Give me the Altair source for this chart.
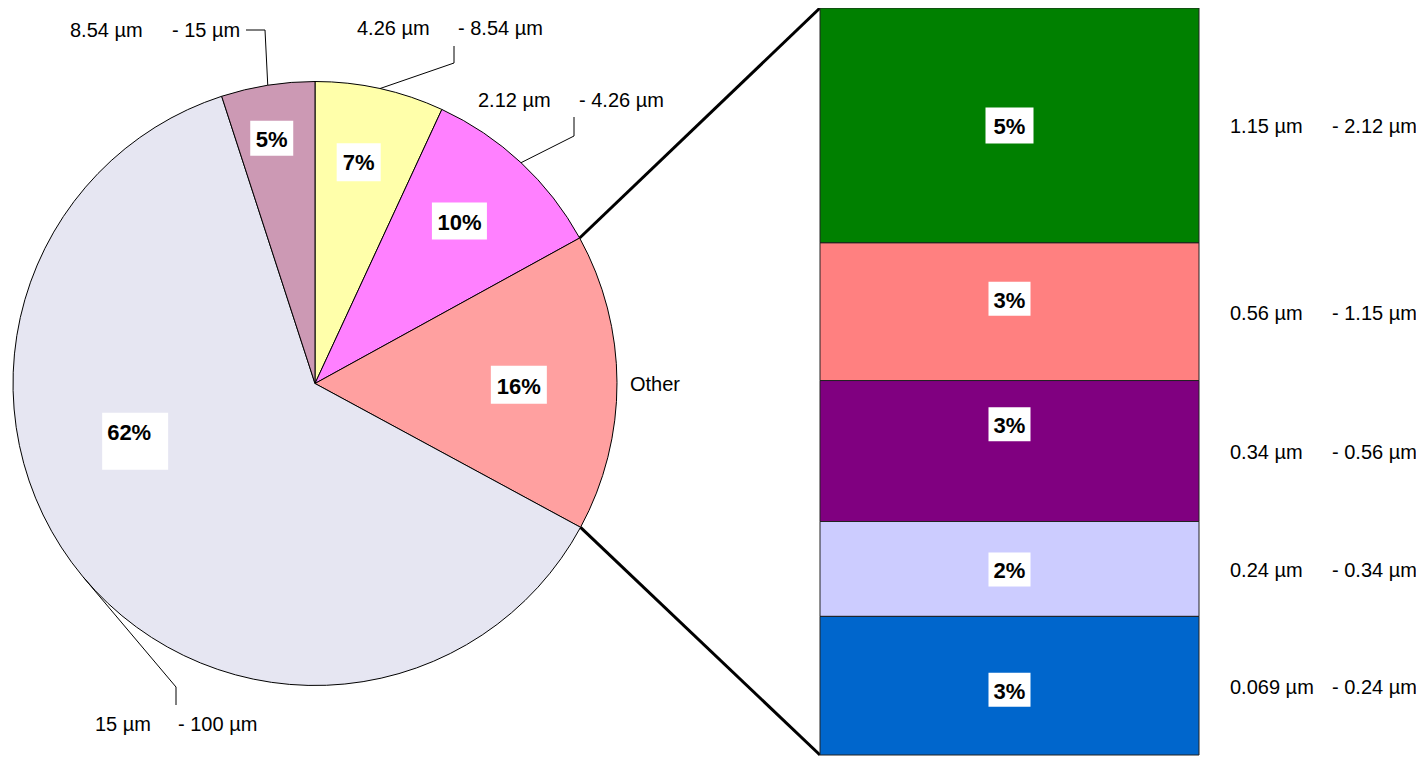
import math
import altair as alt
import pandas as pd

# ---------------- data ----------------
pie_from = ["4.26 µm", "2.12 µm", "Other", "15 µm", "8.54 µm"]
pie_to = ["- 8.54 µm", "- 4.26 µm", "", "- 100 µm", "- 15 µm"]
bar_from = ["1.15 µm", "0.56 µm", "0.34 µm", "0.24 µm", "0.069 µm"]
bar_to = ["- 2.12 µm", "- 1.15 µm", "- 0.56 µm", "- 0.34 µm", "- 0.24 µm"]
bar_values = [5.0, 2.93, 3.0, 2.02, 2.95]          # % in the "Other" group
pie_values = [6.9, 10.1, sum(bar_values), 62.1, 5.0]  # % (Other = sum of bar)

# ---------------- styles ----------------
pie_colors = ["#FFFFAA", "#FF80FF", "#FFA0A0", "#E6E6F2", "#CC99B4"]
bar_colors = ["#008000", "#FF8080", "#800080", "#CCCCFF", "#0066CC"]
FONT = "Liberation Sans, Arial, sans-serif"

# ---------------- layout (page pixels) ----------------
OFF = 8
W, H = 1408, 749
CX, CY, R = 315, 383.5, 302
BAR_X0, BAR_X1, BAR_TOP, BAR_BOT = 820, 1199, 8, 755
BAR_TXT_X1, BAR_TXT_X2 = 1230, 1332
TXT_DY = 2

# outer pie labels: x of first part, x of second part, y
pie_lab_x1 = [357, 478, 630, 95, 70]
pie_lab_x2 = [458, 579, None, 178, 172]
pie_lab_y = [27, 99, 383, 723, 29]
# leader elbows (before the edge point on the slice mid-angle)
pie_leaders = [[(454, 46), (454, 63)], [(574, 117), (574, 136)], None,
               [(176, 705), (176, 687)], [(246, 30), (265, 30)]]
# percentage label placement
pct_shift = [-1.3, -1.4, 0.5, 25.5, -1.0]
pct_rfrac = [0.75, 0.72, 0.675, 0.635, 0.825]
pct_box = [(44, 38), (55, 37), (56, 38), (66, 57), (43, 35)]
pct_box_off = [(0, 1), (0, 0), (0, 0), (6, 10.5), (0, 0)]
bar_lab_frac = [0.5, 0.406, 0.31, 0.505, 0.53]
bar_box = [(48, 36), (42, 34), (42, 34), (42, 34), (42, 34)]

# ---------------- derived tables ----------------
total = sum(pie_values)
cum = [0.0]
for v in pie_values:
    cum.append(cum[-1] + v)


def edge(deg, rr=R):
    a = math.radians(deg)
    return CX + rr * math.sin(a), CY - rr * math.cos(a)


pie_df = pd.DataFrame({"idx": range(5), "value": pie_values, "color": pie_colors})

pct_rows, box_rows, lab_rows, lead_rows = [], [], [], []
for i, v in enumerate(pie_values):
    mid = (cum[i] + v / 2) / total * 360
    tx, ty = edge(mid + pct_shift[i], R * pct_rfrac[i])
    pct_rows.append({"x": tx, "y": ty, "t": f"{v:.0f}%"})
    bw, bh = pct_box[i]
    ox, oy = pct_box_off[i]
    box_rows.append({"x0": tx + ox - bw / 2, "x1": tx + ox + bw / 2,
                     "y0": ty + oy - bh / 2, "y1": ty + oy + bh / 2})
    lab_rows.append({"x": pie_lab_x1[i], "y": pie_lab_y[i], "t": pie_from[i]})
    if pie_lab_x2[i] is not None:
        lab_rows.append({"x": pie_lab_x2[i], "y": pie_lab_y[i], "t": pie_to[i]})
    if pie_leaders[i]:
        pts = list(pie_leaders[i]) + [edge(mid)]
        for k, (px, py) in enumerate(pts):
            lead_rows.append({"seg": i, "k": k, "x": px, "y": py})

pct_df = pd.DataFrame(pct_rows)
box_df = pd.DataFrame(box_rows)
lab_df = pd.DataFrame(lab_rows)
lead_df = pd.DataFrame(lead_rows)

# connectors from the "Other" slice to the bar corners
a0 = cum[2] / total * 360
a1 = cum[3] / total * 360
p0 = edge(a0)
p1 = edge(a1)
conn_df = pd.DataFrame({"x": [p0[0], p1[0]], "y": [p0[1], p1[1]],
                        "x2": [BAR_X0, BAR_X0], "y2": [BAR_TOP, BAR_BOT]})

# bar table
btot = sum(bar_values)
upp = btot / (BAR_BOT - BAR_TOP)
brows = []
c = 0.0
for i, v in enumerate(bar_values):
    lp = c + v * bar_lab_frac[i]
    bw, bh = bar_box[i]
    bc = (BAR_X0 + BAR_X1) / 2
    brows.append({"s": c, "e": c + v, "mid": c + v / 2, "lp": lp,
                  "by0": lp - bh / 2 * upp, "by1": lp + bh / 2 * upp,
                  "bx0": bc - bw / 2, "bx1": bc + bw / 2,
                  "color": bar_colors[i], "t": f"{v:.0f}%",
                  "f": bar_from[i], "to": bar_to[i]})
    c += v
bar_df = pd.DataFrame(brows)

# ---------------- scales ----------------
xs = alt.Scale(domain=[OFF, OFF + W], range=[0, W])
ys = alt.Scale(domain=[OFF, OFF + H], range=[0, H])
bys = alt.Scale(domain=[0, btot], range=[BAR_TOP - OFF, BAR_BOT - OFF])

X = lambda f: alt.X(f, type="quantitative", scale=xs, axis=None)
Y = lambda f: alt.Y(f, type="quantitative", scale=ys, axis=None)

arcs = alt.Chart(pie_df).mark_arc(radius=R, stroke="black", strokeWidth=1).encode(
    theta=alt.Theta("value:Q", stack=True),
    order=alt.Order("idx:Q"),
    fill=alt.Fill("color:N", scale=None),
    x=alt.value(CX - OFF), y=alt.value(CY - OFF),
)

boxes = alt.Chart(box_df).mark_rect(fill="white").encode(
    x=X("x0"), x2="x1", y=Y("y0"), y2="y1")

pcts = alt.Chart(pct_df).mark_text(font=FONT, fontSize=22, fontWeight="bold", dy=TXT_DY,
                                   color="black", align="center", baseline="middle").encode(
    x=X("x"), y=Y("y"), text="t:N")

labs = alt.Chart(lab_df).mark_text(font=FONT, fontSize=20, color="black", dy=TXT_DY,
                                   align="left", baseline="middle").encode(
    x=X("x"), y=Y("y"), text="t:N")

leads = alt.Chart(lead_df).mark_line(color="black", strokeWidth=1).encode(
    x=X("x"), y=Y("y"), detail="seg:N", order="k:Q")

conns = alt.Chart(conn_df).mark_rule(color="black", strokeWidth=3).encode(
    x=X("x"), y=Y("y"), x2="x2", y2="y2")

pixel_layer = alt.layer(arcs, boxes, pcts, labs, leads, conns)

BY = lambda f: alt.Y(f, type="quantitative", scale=bys, axis=None)

bars = alt.Chart(bar_df).mark_rect(stroke="#222222", strokeWidth=1).encode(
    x=alt.value(BAR_X0 - OFF), x2=alt.value(BAR_X1 - OFF),
    y=BY("s"), y2="e", fill=alt.Fill("color:N", scale=None))

bboxes = alt.Chart(bar_df).mark_rect(fill="white").encode(
    x=X("bx0"), x2="bx1", y=BY("by0"), y2="by1")

btxt = alt.Chart(bar_df).mark_text(font=FONT, fontSize=22, fontWeight="bold", dy=TXT_DY,
                                   color="black", align="center", baseline="middle").encode(
    x=alt.value((BAR_X0 + BAR_X1) / 2 - OFF), y=BY("lp"), text="t:N")

bfrom = alt.Chart(bar_df).mark_text(font=FONT, fontSize=20, color="black", dy=TXT_DY,
                                    align="left", baseline="middle").encode(
    x=alt.value(BAR_TXT_X1 - OFF), y=BY("mid"), text="f:N")

bto = alt.Chart(bar_df).mark_text(font=FONT, fontSize=20, color="black", dy=TXT_DY,
                                  align="left", baseline="middle").encode(
    x=alt.value(BAR_TXT_X2 - OFF), y=BY("mid"), text="to:N")

bar_layer = alt.layer(bars, bboxes, btxt, bfrom, bto)

chart = alt.layer(pixel_layer, bar_layer).resolve_scale(y="independent").properties(
    width=W, height=H, padding=0,
    autosize=alt.AutoSizeParams(type="none"),
).configure_view(stroke=None)

chart.save("out.html", embed_options={"renderer": "svg", "actions": False})
